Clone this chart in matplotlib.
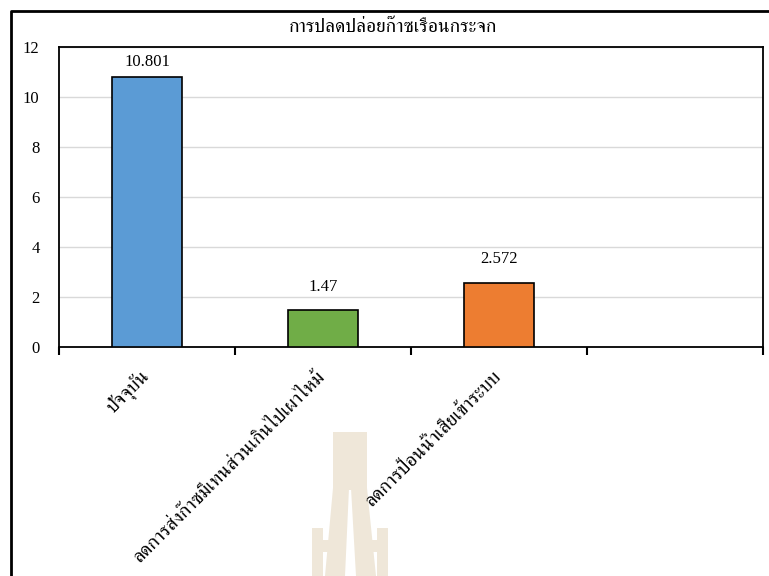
import matplotlib
matplotlib.use("Agg")
import matplotlib.pyplot as plt
from matplotlib import font_manager
from matplotlib.ft2font import FT2Font
from matplotlib.lines import Line2D
from matplotlib.patches import Polygon

# data
categories = ["ปัจจุบัน", "ลดการส่งก๊าซมีเทนส่วนเกินไปเผาไหม้", "ลดการป้อนน้ำเสียเข้าระบบ", ""]
values = [10.801, 1.47, 2.572]
value_labels = ["10.801", "1.47", "2.572"]
bar_colors = ["#5B9BD5", "#70AD47", "#ED7D31"]
title = "การปลดปล่อยก๊าซเรือนกระจก"
yticks = [0, 2, 4, 6, 8, 10, 12]

# find installed fonts that have Thai glyphs, prefer a serif one
thai_fonts = []
for f in font_manager.fontManager.ttflist:
    try:
        if 0x0E01 in FT2Font(f.fname).get_charmap():
            thai_fonts.append(f.name)
    except Exception:
        pass
thai_fonts.sort(key=lambda n: 0 if "Serif" in n else 1)
families = ["Liberation Serif"]
if thai_fonts:
    families.append(thai_fonts[0])
families.append("DejaVu Sans")
plt.rcParams["font.family"] = families

fig = plt.figure(figsize=(7.69, 5.76), dpi=100)
ax = fig.add_axes([59 / 769, 1 - 347 / 576, (763 - 59) / 769, 300 / 576])

x = list(range(len(values)))
ax.bar(x, values, width=0.4, color=bar_colors, edgecolor="black", linewidth=1.2, zorder=3)

pads = [5, 11, 11]
for xi, v, lab, p in zip(x, values, value_labels, pads):
    ax.annotate(lab, (xi, v), xytext=(0, p), textcoords="offset points",
                ha="center", va="bottom", fontsize=12)

ax.set_xlim(-0.5, len(categories) - 0.5)
ax.set_ylim(0, 12)
ax.set_yticks(yticks)
ax.yaxis.grid(True, color="#d9d9d9", linewidth=1, zorder=0)
ax.tick_params(axis="y", length=0, pad=14, labelsize=12)

ax.set_xticks(range(len(categories)))
ax.set_xticklabels(categories, rotation=45, ha="right", va="center",
                   rotation_mode="anchor", fontsize=14)
ax.tick_params(axis="x", which="major", length=0, pad=19)
ax.set_xticks([i - 0.5 for i in range(len(categories) + 1)], minor=True)
ax.tick_params(axis="x", which="minor", length=6, width=1.5, direction="out")

for s in ax.spines.values():
    s.set_linewidth(1.3)
    s.set_color("black")

fig.text(393 / 769, 1 - 28 / 576, title, ha="center", va="center", fontsize=14)

# outer chart frame (only left and top visible)
fig.add_artist(Line2D([11 / 769, 11 / 769, 1.0], [0.0, 1 - 11 / 576, 1 - 11 / 576],
                      transform=fig.transFigure, color="black", linewidth=2))

# faint watermark logo
logo_color = "#efe7d9"
shapes = [
    [(333, 432), (367, 432), (367, 490), (333, 490)],
    [(333, 488), (349, 488), (345, 576), (325, 576)],
    [(351, 488), (367, 488), (376, 576), (356, 576)],
    [(312, 528), (323, 528), (323, 576), (312, 576)],
    [(377, 528), (388, 528), (388, 576), (377, 576)],
    [(312, 540), (330, 540), (330, 552), (312, 552)],
    [(370, 540), (388, 540), (388, 552), (370, 552)],
]
for pts in shapes:
    fig.add_artist(Polygon([(px / 769, 1 - py / 576) for px, py in pts],
                           closed=True, transform=fig.transFigure,
                           facecolor=logo_color, edgecolor="none", zorder=-1))

fig.savefig("out.png", dpi=100)
